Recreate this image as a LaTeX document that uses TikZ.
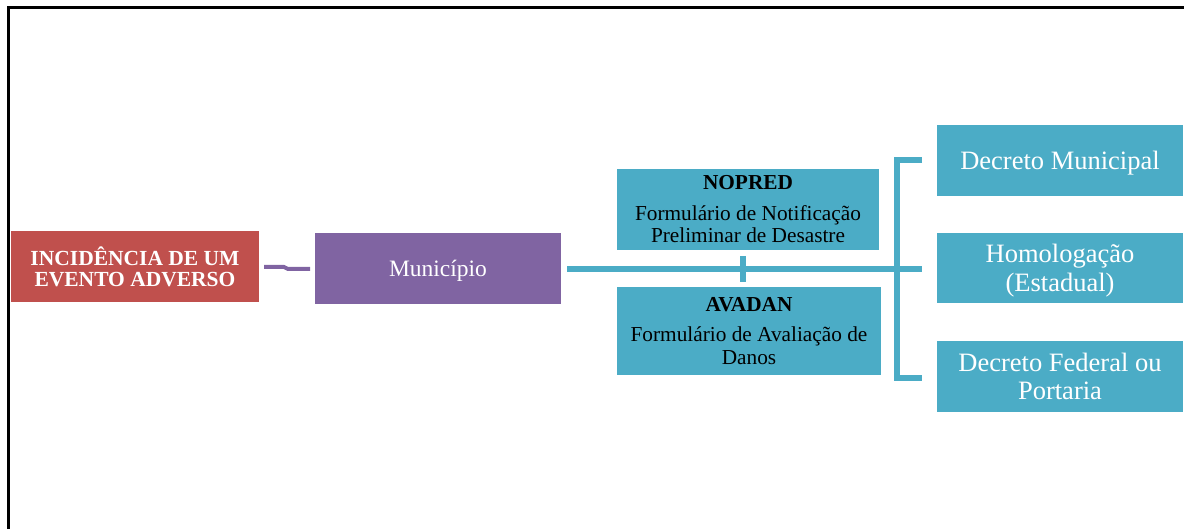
\documentclass[tikz,border=0pt]{standalone}
\usepackage{fontspec}
\setmainfont{Liberation Serif}
\definecolor{cred}{HTML}{C0504D}
\definecolor{cpurple}{HTML}{8064A2}
\definecolor{cblue}{HTML}{4BACC6}
\begin{document}
\begin{tikzpicture}[x=1pt,y=-1pt,
  box/.style={inner sep=0pt, align=center, text=white},
  bconn/.style={draw=cblue, line width=6pt},
  pconn/.style={draw=cpurple, line width=4pt}]
\useasboundingbox (0,0) rectangle (1184,529);
% frame
\draw[line width=3pt, line cap=rect] (8.5,529) -- (8.5,7.5) -- (1184,7.5);
% nodes
\node[box, fill=cred, minimum width=248pt, minimum height=71pt, font=\fontsize{21.5}{21}\selectfont\bfseries] (red) at (135,266.5) {INCIDÊNCIA DE UM\\EVENTO ADVERSO};
\node[box, fill=cpurple, minimum width=246pt, minimum height=71pt, text depth=0pt, font=\fontsize{23.5}{26}\selectfont] (mun) at (438,268.5) {Município};
\node[box, fill=cblue, text=black, minimum width=262pt, minimum height=81pt, font=\fontsize{21.3}{22.5}\selectfont] (nopred) at (748,209.5) {\textbf{NOPRED}\\[8pt]Formulário de Notificação\\Preliminar de Desastre};
\node[box, fill=cblue, text=black, minimum width=264pt, minimum height=88pt, font=\fontsize{21.3}{22.5}\selectfont] (avadan) at (749,331) {\textbf{AVADAN}\\[8pt]Formulário de Avaliação de\\Danos};
\node[box, fill=cblue, minimum width=246pt, minimum height=71pt, text depth=0pt, font=\fontsize{26.5}{28}\selectfont] (dm) at (1060,160.5) {Decreto Municipal};
\node[box, fill=cblue, minimum width=246pt, minimum height=70pt, text depth=0pt, font=\fontsize{26.5}{29}\selectfont] (hom) at (1060,268) {Homologação\\(Estadual)};
\node[box, fill=cblue, minimum width=246pt, minimum height=71pt, text depth=0pt, font=\fontsize{26.5}{28}\selectfont] (df) at (1060,376.5) {Decreto Federal ou\\Portaria};
% coordinates
\coordinate (p1) at (264,267);
\coordinate (p2) at (284,267);
\coordinate (p3) at (288,269);
\coordinate (p4) at (310,269);
\coordinate (m0) at (567,269.5);
\coordinate (bm) at (922,269.5);
\coordinate (tk1) at (743,256);
\coordinate (tk2) at (743,282);
\coordinate (bt) at (897,160);
\coordinate (bb) at (897,378);
\coordinate (bt2) at (922,160);
\coordinate (bb2) at (922,378);
% connectors
\draw[pconn] (p1) -- (p2) -- (p3) -- (p4);
\draw[bconn] (m0) -- (bm);
\draw[bconn] (tk1) -- (tk2);
\draw[bconn] (bt2) -- (bt) -- (bb) -- (bb2);
\end{tikzpicture}
\end{document}
